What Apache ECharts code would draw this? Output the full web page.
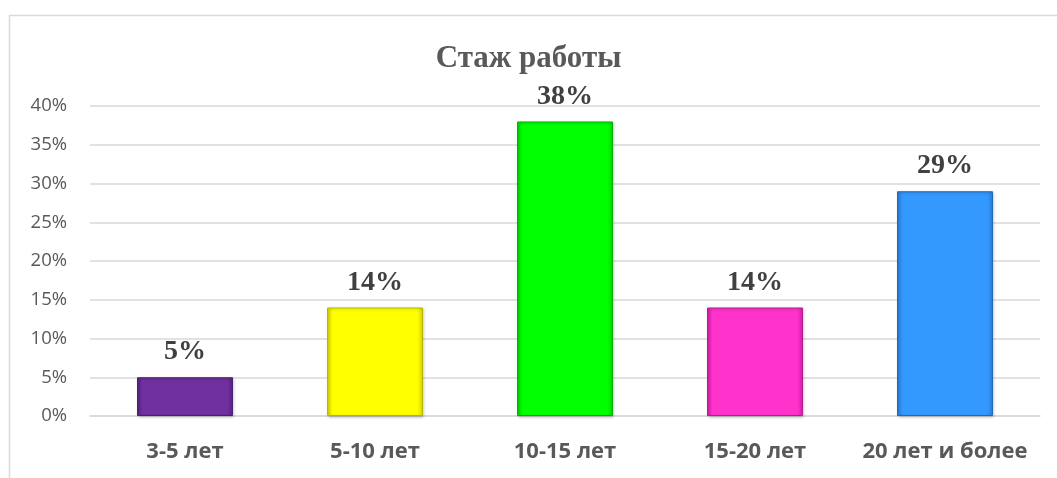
<!DOCTYPE html>
<html><head><meta charset="utf-8">
<script src="https://cdn.jsdelivr.net/npm/echarts@6/dist/echarts.min.js"></script>
<style>html,body{margin:0;padding:0;background:#fff}#c{width:1057px;height:478px}</style>
</head><body><div id="c"></div>
<script>
const categories = ['3-5 лет', '5-10 лет', '10-15 лет', '15-20 лет', '20 лет и более'];
const values = [5, 14, 38, 14, 29];
const colors = ['#7030A0', '#FFFF00', '#00FF00', '#FF33CC', '#3399FF'];
const edges = ['#5a2386', '#d8d800', '#00d800', '#d81faa', '#2a7fd8'];
const borders = ['#4b1f6e', '#b8b800', '#00b000', '#b0208c', '#2266b0'];
const yTicks = [0, 5, 10, 15, 20, 25, 30, 35, 40];

const chart = echarts.init(document.getElementById('c'));
chart.setOption({
  animation: false,
  graphic: [{type: 'rect', shape: {x: 9.5, y: 15.5, width: 1100, height: 500}, style: {fill: 'none', stroke: '#d9d9d9', lineWidth: 1.5}, silent: true}],
  title: {text: 'Стаж работы', left: 'center', top: 38,
    textStyle: {fontFamily: 'Liberation Serif', fontWeight: 'bold', fontSize: 31, color: '#595959'}},
  grid: {left: 90, right: 17, top: 106, bottom: 62},
  xAxis: {type: 'category', data: categories,
    axisLine: {lineStyle: {color: '#d9d9d9', width: 1.5}}, axisTick: {show: false},
    axisLabel: {interval: 0, hideOverlap: false, margin: 25, fontFamily: 'Open Sans', fontWeight: 'bold', fontSize: 22, color: '#595959'}},
  yAxis: {type: 'value', min: yTicks[0], max: yTicks[yTicks.length - 1], interval: 5,
    axisLine: {show: false}, axisTick: {show: false},
    splitLine: {lineStyle: {color: '#d9d9d9', width: 1.5}},
    axisLabel: {margin: 23, formatter: v => v + '%', fontFamily: 'Open Sans', fontSize: 18.5, color: '#595959'}},
  series: [{type: 'bar', barWidth: '50.5%',
    data: values.map((v, i) => ({value: v, itemStyle: {
      color: {type: 'linear', x: 0, y: 0, x2: 1, y2: 0, colorStops: [
        {offset: 0, color: edges[i]}, {offset: 0.06, color: colors[i]}, {offset: 0.94, color: colors[i]}, {offset: 1, color: edges[i]}]},
      borderColor: borders[i], borderWidth: 1,
      shadowColor: 'rgba(0,0,0,0.25)', shadowBlur: 3, shadowOffsetX: 1, shadowOffsetY: 1}})),
    label: {show: true, position: 'top', distance: 11, formatter: p => p.value + '%',
      fontFamily: 'Liberation Serif', fontWeight: 'bold', fontSize: 28, color: '#404040'}}]
});
</script></body></html>
